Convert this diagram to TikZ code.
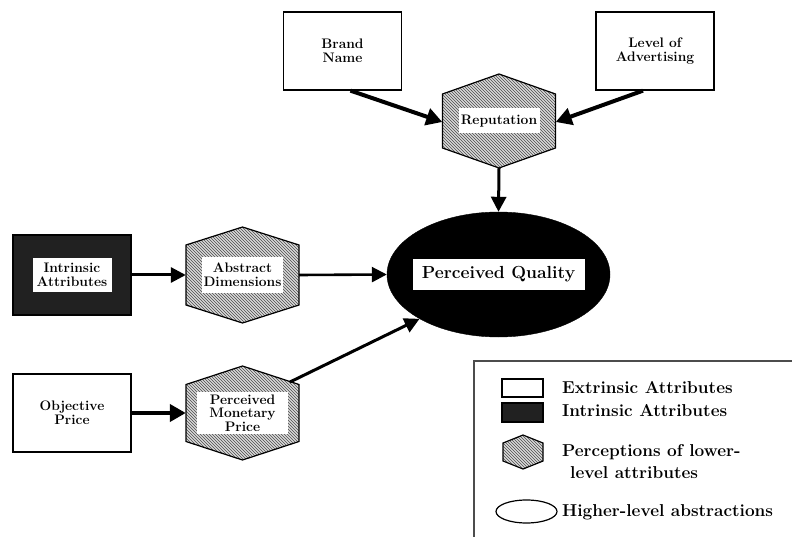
\documentclass[tikz,border=0pt]{standalone}
\usepackage{fontspec}
\usetikzlibrary{shapes.geometric,arrows.meta,patterns,calc}
\newcommand{\hexshape}[4]{% center, half width, half height, half side
  \path[hexfill] ($(#1)+(0,-#3)$) -- ($(#1)+(#2,-#4)$) -- ($(#1)+(#2,#4)$) -- ($(#1)+(0,#3)$)
    -- ($(#1)+(-#2,#4)$) -- ($(#1)+(-#2,-#4)$) -- cycle;}
\begin{document}
\begin{tikzpicture}[x=1pt,y=-1pt,
  box/.style={draw=black,line width=1.3pt,minimum width=118pt,minimum height=78pt,inner sep=0pt,fill=white},
  dark/.style={box,fill=black!87,minimum height=80pt},
  lab/.style={fill=white,inner sep=0pt,align=center,font=\fontsize{13.8}{13.6}\selectfont\bfseries},
  plain/.style={inner sep=0pt,align=center,font=\fontsize{13.8}{13.6}\selectfont\bfseries},
  hexspot/.style={minimum width=113pt,minimum height=94pt,inner sep=0pt},
  hexfill/.style={draw=black,line width=1.2pt,preaction={fill=gray!30},pattern=north west lines,pattern color=black!70},
  arr/.style={line width=3pt,-{Triangle[length=15pt,width=15pt]}},
  thickarr/.style={line width=4pt,-{Triangle[length=16pt,width=17pt]}},
  legtext/.style={anchor=west,inner sep=0pt,font=\fontsize{17.2}{19}\selectfont\bfseries},
  legline/.style={draw=black!70,line width=1.3pt}
]
\useasboundingbox (0,0) rectangle (792,537);

% extrinsic boxes
\node[box] (brand) at (342.5,51) {};
\node[plain] at (brand) {Brand\\Name};
\node[box] (adv) at (655,51) {};
\node[plain] at (adv) {Level of\\Advertising};

% reputation hexagon
\node[hexspot] (rep) at (499,121) {};
\hexshape{rep}{56.5}{47}{27}
\node[lab,minimum width=81pt,minimum height=25pt] (replab) at (rep) {Reputation};

% perceived quality
\node[ellipse,fill=black,draw=black,minimum width=223pt,minimum height=125pt,inner sep=0pt] (pq) at (498.5,274.5) {};
\node[lab,minimum width=172pt,minimum height=30pt,font=\fontsize{17.5}{19}\selectfont\bfseries] (pqlab) at (pq) {Perceived Quality};

% intrinsic
\node[dark] (intr) at (72,275) {};
\node[lab,minimum width=79pt,minimum height=34pt] (intrlab) at (intr) {Intrinsic\\Attributes};

% abstract dimensions
\node[hexspot,minimum height=96pt] (abs) at (242.5,275) {};
\hexshape{abs}{56.5}{48}{30}
\node[lab,minimum width=81pt,minimum height=36pt] (abslab) at (abs) {Abstract\\Dimensions};

% objective price
\node[box] (obj) at (72,413) {};
\node[plain] at (obj) {Objective\\Price};

% perceived monetary price
\node[hexspot] (mon) at (242.5,413) {};
\hexshape{mon}{56.5}{47}{28.5}
\node[lab,minimum width=91pt,minimum height=42pt] (monlab) at (mon) {Perceived\\Monetary\\Price};
\coordinate (monstart) at ($(mon)+(47.5,-31)$);

% connectors
\draw[thickarr] ([xshift=8pt]brand.south) -- ([yshift=-1pt]rep.west);
\draw[thickarr] ([xshift=-12pt]adv.south) -- ([yshift=-1pt]rep.east);
\draw[arr] (rep.south) -- (pq.north);
\draw[arr] (intr.east) -- (abs.west);
\draw[line width=2.6pt,-{Triangle[length=15pt,width=15pt]}] (abs.east) -- (pq.west);
\draw[thickarr] (obj.east) -- (mon.west);
\draw[arr] (monstart) -- (pq.south west);

% legend frame
\coordinate (lgtl) at (474,361);
\coordinate (lgbl) at (474,537);
\coordinate (lgtr) at (792,361);
\draw[legline] (lgbl) -- (lgtl) -- (lgtr);

% legend items
\node[draw=black,line width=1.2pt,minimum width=41pt,minimum height=18pt,inner sep=0pt] (lgext) at (522.5,388) {};
\node[legtext] (lgextt) at (562,388) {Extrinsic Attributes};
\node[draw=black,fill=black!87,line width=1.2pt,minimum width=41pt,minimum height=19pt,inner sep=0pt] (lgint) at (522.5,412.5) {};
\node[legtext] (lgintt) at (562,411) {Intrinsic Attributes};
\coordinate (lghex) at (523,452);
\hexshape{lghex}{20}{17}{9}
\node[legtext] (lgpert1) at (562,452) {Perceptions of lower-};
\node[legtext] (lgpert2) at (570,473) {level attributes};
\node[ellipse,draw=black,line width=1.2pt,minimum width=61pt,minimum height=23pt,inner sep=0pt] (lgell) at (526.5,511.5) {};
\node[legtext] (lgellt) at (562,512) {Higher-level abstractions};
\end{tikzpicture}
\end{document}
